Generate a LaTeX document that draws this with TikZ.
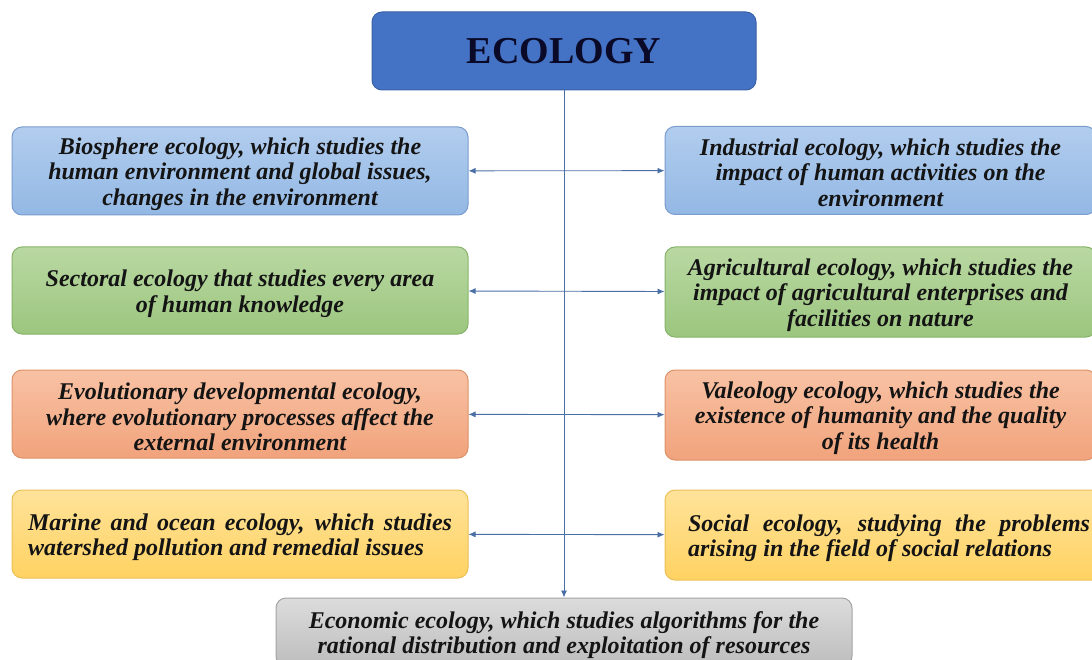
\documentclass[tikz,border=0pt]{standalone}
\usepackage{fontspec}
\setmainfont{Liberation Serif}
\usetikzlibrary{arrows.meta}
\definecolor{ecofill}{HTML}{4472C4}
\definecolor{ecoline}{HTML}{3A62A8}
\definecolor{ecotext}{HTML}{0A0A28}
\definecolor{txt}{HTML}{141414}
\definecolor{bluetop}{HTML}{B2CDEE}
\definecolor{bluebot}{HTML}{93B8E4}
\definecolor{blueline}{HTML}{7A9CCF}
\definecolor{greentop}{HTML}{B9D8A2}
\definecolor{greenbot}{HTML}{9CC67F}
\definecolor{greenline}{HTML}{86B368}
\definecolor{orangetop}{HTML}{F8C2A4}
\definecolor{orangebot}{HTML}{F1A37C}
\definecolor{orangeline}{HTML}{DC9269}
\definecolor{yellowtop}{HTML}{FFE39A}
\definecolor{yellowbot}{HTML}{FFD262}
\definecolor{yellowline}{HTML}{EAC057}
\definecolor{graytop}{HTML}{DCDCDC}
\definecolor{graybot}{HTML}{BDBDBD}
\definecolor{grayline}{HTML}{A3A3A3}
\definecolor{arr}{HTML}{4A6FA5}
\tikzset{
  box/.style={rounded corners=10pt, line width=1pt, inner sep=0pt},
  lbl/.style={inner sep=0pt, align=center, text=txt,
    font=\fontsize{24}{25.5}\selectfont\bfseries\itshape},
  bluebox/.style={box, top color=bluetop, bottom color=bluebot, draw=blueline},
  greenbox/.style={box, top color=greentop, bottom color=greenbot, draw=greenline},
  orangebox/.style={box, top color=orangetop, bottom color=orangebot, draw=orangeline},
  yellowbox/.style={box, top color=yellowtop, bottom color=yellowbot, draw=yellowline},
  graybox/.style={box, top color=graytop, bottom color=graybot, draw=grayline},
  leftbox/.style={minimum width=456pt, minimum height=88pt},
  rightbox/.style={minimum width=431pt, minimum height=88pt},
  ecobox/.style={rounded corners=10pt, fill=ecofill, draw=ecoline, line width=1pt,
    minimum width=384pt, minimum height=78pt, inner sep=0pt,
    font=\fontsize{38}{42}\selectfont\bfseries, text=ecotext},
  conn/.style={draw=arr, line width=0.9pt, {Latex[length=7pt,width=6pt]}-{Latex[length=7pt,width=6pt]}},
  vconn/.style={draw=arr, line width=0.9pt, -{Latex[length=7pt,width=6pt]}}
}
\begin{document}
\begin{tikzpicture}[x=1pt,y=-1pt]
\useasboundingbox (0,0) rectangle (1092,660);
\clip (0,0) rectangle (1092,660);
\node[ecobox] (eco) at (564,51) {ECOLOGY};

% left column
\node[bluebox,leftbox] (L1) at (240,171) {};
\node[lbl] (L1t) at ([yshift=-3pt]L1.center) {Biosphere ecology, which studies the\\human environment and global issues,\\changes in the environment};
\node[greenbox,leftbox,minimum height=87pt] (L2) at (240,290.5) {};
\node[lbl] (L2t) at ([yshift=-3pt]L2.center) {Sectoral ecology that studies every area\\of human knowledge};
\node[orangebox,leftbox] (L3) at (240,414) {};
\node[lbl] (L3t) at ([yshift=-3pt]L3.center) {Evolutionary developmental ecology,\\where evolutionary processes affect the\\external environment};
\node[yellowbox,leftbox] (L4) at (240,534) {};
\node[lbl,align=left] (L4t) at ([yshift=-3pt]L4.center) {\makebox[424pt][s]{Marine and ocean ecology, which studies}\\watershed pollution and remedial issues};

% right column
\node[bluebox,rightbox] (R1) at (880.5,170.5) {};
\node[lbl] (R1t) at ([yshift=-2pt]R1.center) {Industrial ecology, which studies the\\impact of human activities on the\\environment};
\node[greenbox,rightbox,minimum height=90pt] (R2) at (880.5,292) {};
\node[lbl] (R2t) at ([yshift=-3pt]R2.center) {Agricultural ecology, which studies the\\impact of agricultural enterprises and\\facilities on nature};
\node[orangebox,rightbox,minimum height=90pt] (R3) at (880.5,415) {};
\node[lbl] (R3t) at ([yshift=-3pt]R3.center) {Valeology ecology, which studies the\\existence of humanity and the quality\\of its health};
\node[yellowbox,minimum width=448pt,minimum height=90pt] (R4) at (889,535) {};
\node[lbl,align=left] (R4t) at ([yshift=-3pt]R4.center) {\makebox[402pt][s]{Social ecology, studying the problems}\\arising in the field of social relations};

% bottom
\node[graybox,minimum width=576pt,minimum height=68pt] (bot) at (564,632) {};
\node[lbl] (bott) at ([yshift=-3pt]bot.center) {Economic ecology, which studies algorithms for the\\rational distribution and exploitation of resources};

\draw[vconn] (eco) -- (bot);
\draw[conn] (L1) -- (R1);
\draw[conn] (L2) -- (R2);
\draw[conn] (L3) -- (R3);
\draw[conn] (L4) -- (R4);
\end{tikzpicture}
\end{document}
